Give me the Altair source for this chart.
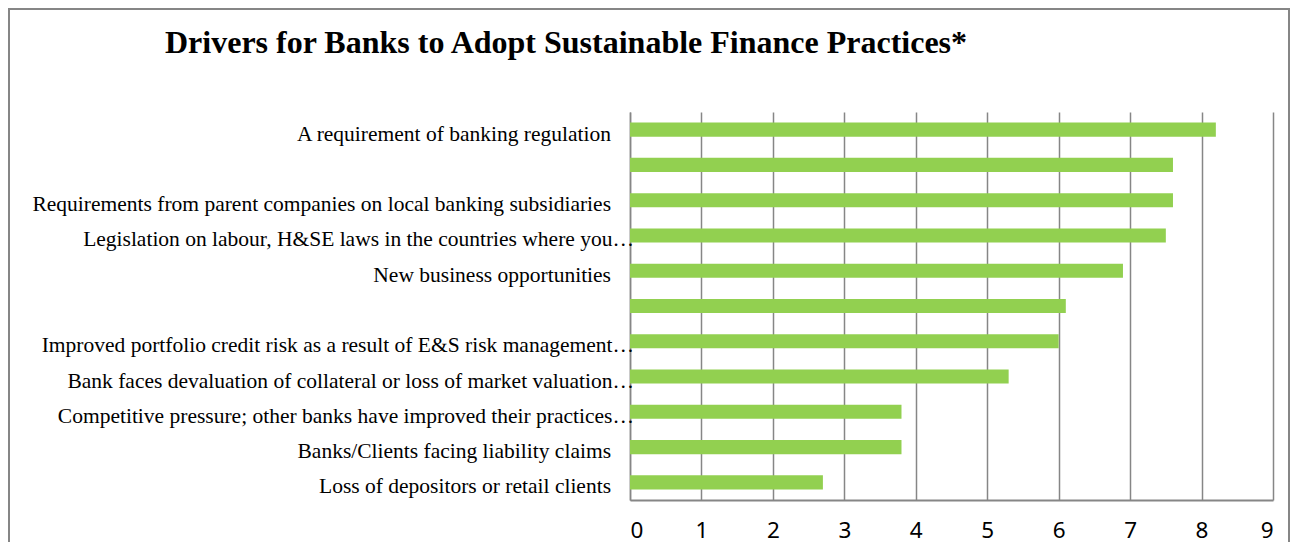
import altair as alt
import pandas as pd

categories = [
    "A requirement of banking regulation",
    " ",
    "Requirements from parent companies on local banking subsidiaries",
    "Legislation on labour, H&SE laws in the countries where you…",
    "New business opportunities",
    "  ",
    "Improved portfolio credit risk as a result of E&S risk management…",
    "Bank faces devaluation of collateral or loss of market valuation…",
    "Competitive pressure; other banks have improved their practices…",
    "Banks/Clients facing liability claims",
    "Loss of depositors or retail clients",
]
values = [8.2, 7.6, 7.6, 7.5, 6.9, 6.1, 6.0, 5.3, 3.8, 3.8, 2.7]
x_ticks = list(range(10))
title_text = "Drivers for Banks to Adopt Sustainable Finance Practices*"

df = pd.DataFrame({
    "driver": categories,
    "score": values,
    "truncated": [c.endswith("…") for c in categories],
})

W, H = 643, 388
GRID = "#868686"
LABEL_SIZE = 21.5
yscale = alt.Scale(domain=categories, paddingInner=0.6, paddingOuter=0.3)
xscale = alt.Scale(domain=[0, 9], nice=False, zero=True)

base = alt.Chart(df)

bars = base.mark_bar(color="#92D050").encode(
    x=alt.X("score:Q", scale=xscale,
            axis=alt.Axis(values=x_ticks, title=None, grid=True, gridColor=GRID,
                          gridWidth=1.5, domainColor=GRID, domainWidth=2,
                          ticks=False, labelFont="Noto Sans", labelFontSize=22.5,
                          labelColor="#000", labelPadding=19, format="d")),
    y=alt.Y("driver:N", scale=yscale, sort=None,
            axis=alt.Axis(title=None, labels=False, ticks=False, domain=True,
                          domainColor=GRID, domainWidth=1.5, grid=False)),
)

lab_full = base.transform_filter("!datum.truncated").mark_text(
    align="right", baseline="middle", font="Liberation Serif", fontSize=LABEL_SIZE,
    dy=5, color="#000"
).encode(
    y=alt.Y("driver:N", scale=yscale, sort=None),
    x=alt.value(-19),
    text="driver:N",
)

lab_trunc = base.transform_filter("datum.truncated").mark_text(
    align="right", baseline="middle", font="Liberation Serif", fontSize=LABEL_SIZE,
    dy=5, color="#000"
).encode(
    y=alt.Y("driver:N", scale=yscale, sort=None),
    x=alt.value(4),
    text="driver:N",
)

title = alt.Chart(pd.DataFrame({"t": [title_text]})).mark_text(
    align="left", baseline="alphabetic", font="Liberation Serif", fontSize=32,
    fontWeight="bold", color="#000"
).encode(x=alt.value(-465), y=alt.value(-59), text="t:N")

frame = alt.Chart(pd.DataFrame({"f": [0]})).mark_rect(
    fillOpacity=0, stroke=GRID, strokeWidth=2
).encode(
    x=alt.value(-621), x2=alt.value(659), y=alt.value(-103), y2=alt.value(520)
)

chart = alt.layer(frame, bars, lab_full, lab_trunc, title).properties(
    width=W, height=H,
    padding={"left": 622, "top": 104, "right": 18, "bottom": 42},
    autosize="none",
).configure_view(stroke=None)

chart.save("out.html", embed_options={"renderer": "svg", "actions": False})
